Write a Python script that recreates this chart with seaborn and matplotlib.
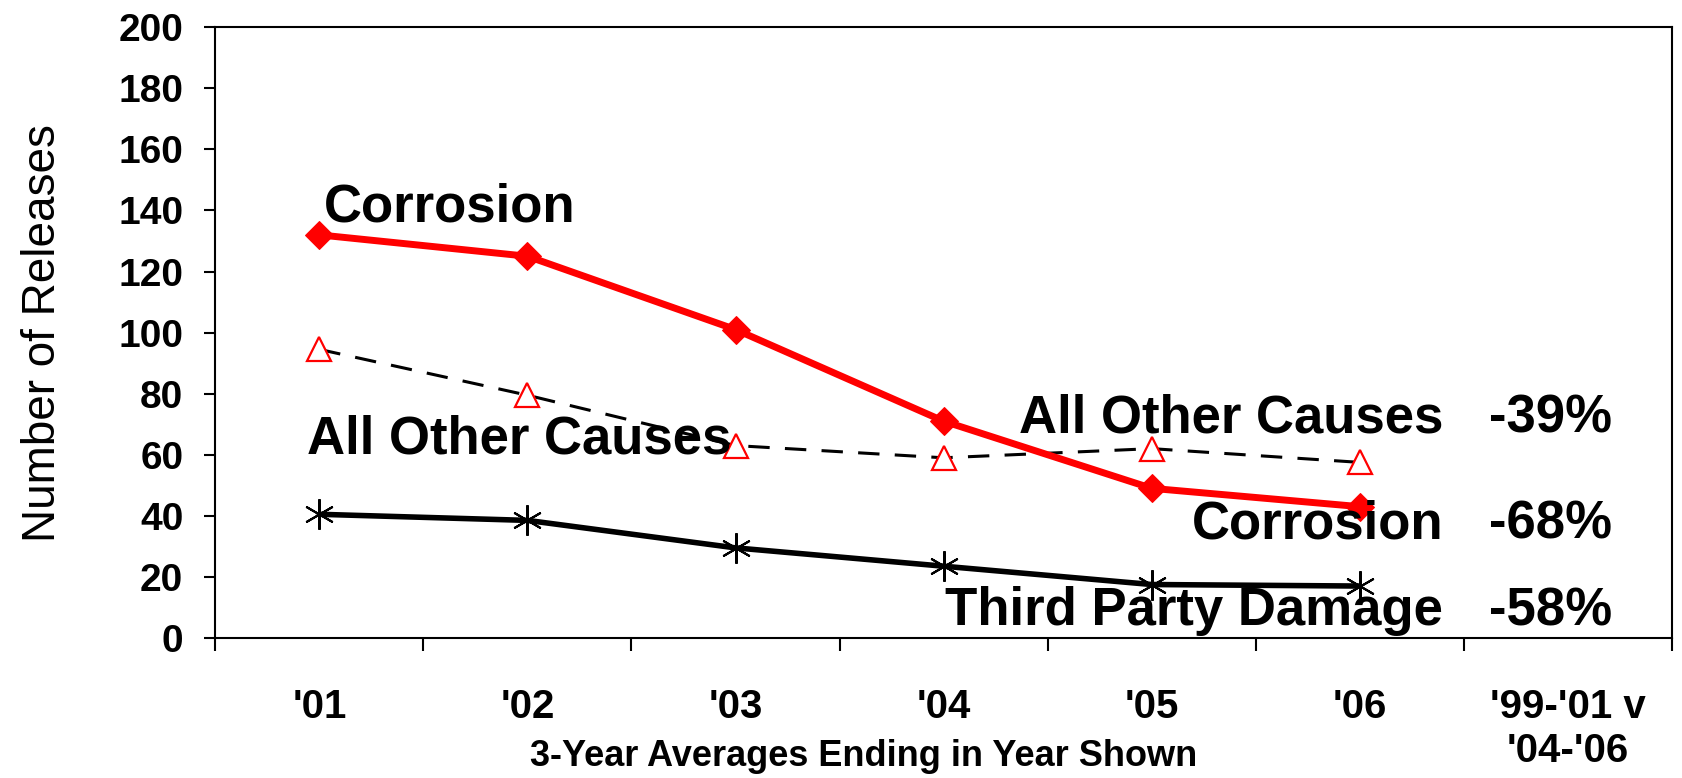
import numpy as np
import pandas as pd
import seaborn as sns
import matplotlib.pyplot as plt

years = ["'01", "'02", "'03", "'04", "'05", "'06"]
extra_cat = "'99-'01 v\n'04-'06"
corrosion = [132, 125, 101, 71, 49, 43]
other_causes = [94.5, 79.5, 63, 59, 62, 57.5]
third_party = [40.5, 38.5, 29.5, 23.5, 17.5, 17]
pct_labels = ["-39%", "-68%", "-58%"]

sns.set_style("ticks")
plt.rcParams['font.family'] = ['Liberation Sans', 'DejaVu Sans']
for k in ["text.color", "axes.labelcolor", "xtick.color", "ytick.color", "axes.edgecolor"]:
    plt.rcParams[k] = "black"

df = pd.DataFrame({"x": np.arange(len(years)), "corrosion": corrosion,
                   "other": other_causes, "third": third_party})

fig = plt.figure(figsize=(16.82, 7.78), dpi=100)
ax = fig.add_axes([0.128, 0.18, 0.866, 0.785])

sns.lineplot(data=df, x="x", y="other", ax=ax, color="black", lw=2.2,
             dashes=False, linestyle=(0, (7, 5)), marker="^", markersize=17,
             markerfacecolor="white", markeredgecolor="red", markeredgewidth=1.6)
sns.lineplot(data=df, x="x", y="third", ax=ax, color="black", lw=4,
             marker=(6, 2, 0), markersize=22, markeredgecolor="black",
             markeredgewidth=1.5)
sns.lineplot(data=df, x="x", y="corrosion", ax=ax, color="red", lw=5,
             marker="D", markersize=14, markerfacecolor="red",
             markeredgecolor="red")

ax.set_xlim(-0.5, len(years) + 0.5)
ax.set_ylim(0, 200)
ax.set_yticks(np.arange(0, 201, 20))
ax.set_xticks(np.arange(len(years) + 1))
ax.set_xticklabels(years + [extra_cat], fontsize=29, fontweight="bold", va="top")
ax.set_xticks(np.arange(-0.5, len(years) + 1), minor=True)
ax.tick_params(axis="x", which="major", length=0, pad=36)
ax.tick_params(axis="x", which="minor", length=9, width=1.5, direction="out")
ax.tick_params(axis="y", length=8, width=1.5, pad=15)
for lab in ax.get_yticklabels():
    lab.set_fontsize(28)
    lab.set_fontweight("bold")

for s in ax.spines.values():
    s.set_visible(True)
    s.set_color("black")
    s.set_linewidth(1.5)

ax.set_xlabel("3-Year Averages Ending in Year Shown", fontsize=26, fontweight="bold")
ax.xaxis.set_label_coords(0.445, -0.165)
ax.set_ylabel("Number of Releases", fontsize=33)
ax.yaxis.set_label_coords(-0.103, 0.5)

tkw = dict(fontsize=38, fontweight="bold", va="center")
ax.text(0.02, 141, "Corrosion", ha="left", **tkw)
ax.text(-0.06, 65, "All Other Causes", ha="left", **tkw)
ax.text(5.4, 72, "All Other Causes", ha="right", **tkw)
ax.text(5.4, 37, "Corrosion", ha="right", **tkw)
ax.text(5.4, 8.8, "Third Party Damage", ha="right", **tkw)
for yv, p in zip([72, 37, 8.8], pct_labels):
    ax.text(5.62, yv, p, ha="left", **tkw)

fig.savefig("out.png", dpi=100)
